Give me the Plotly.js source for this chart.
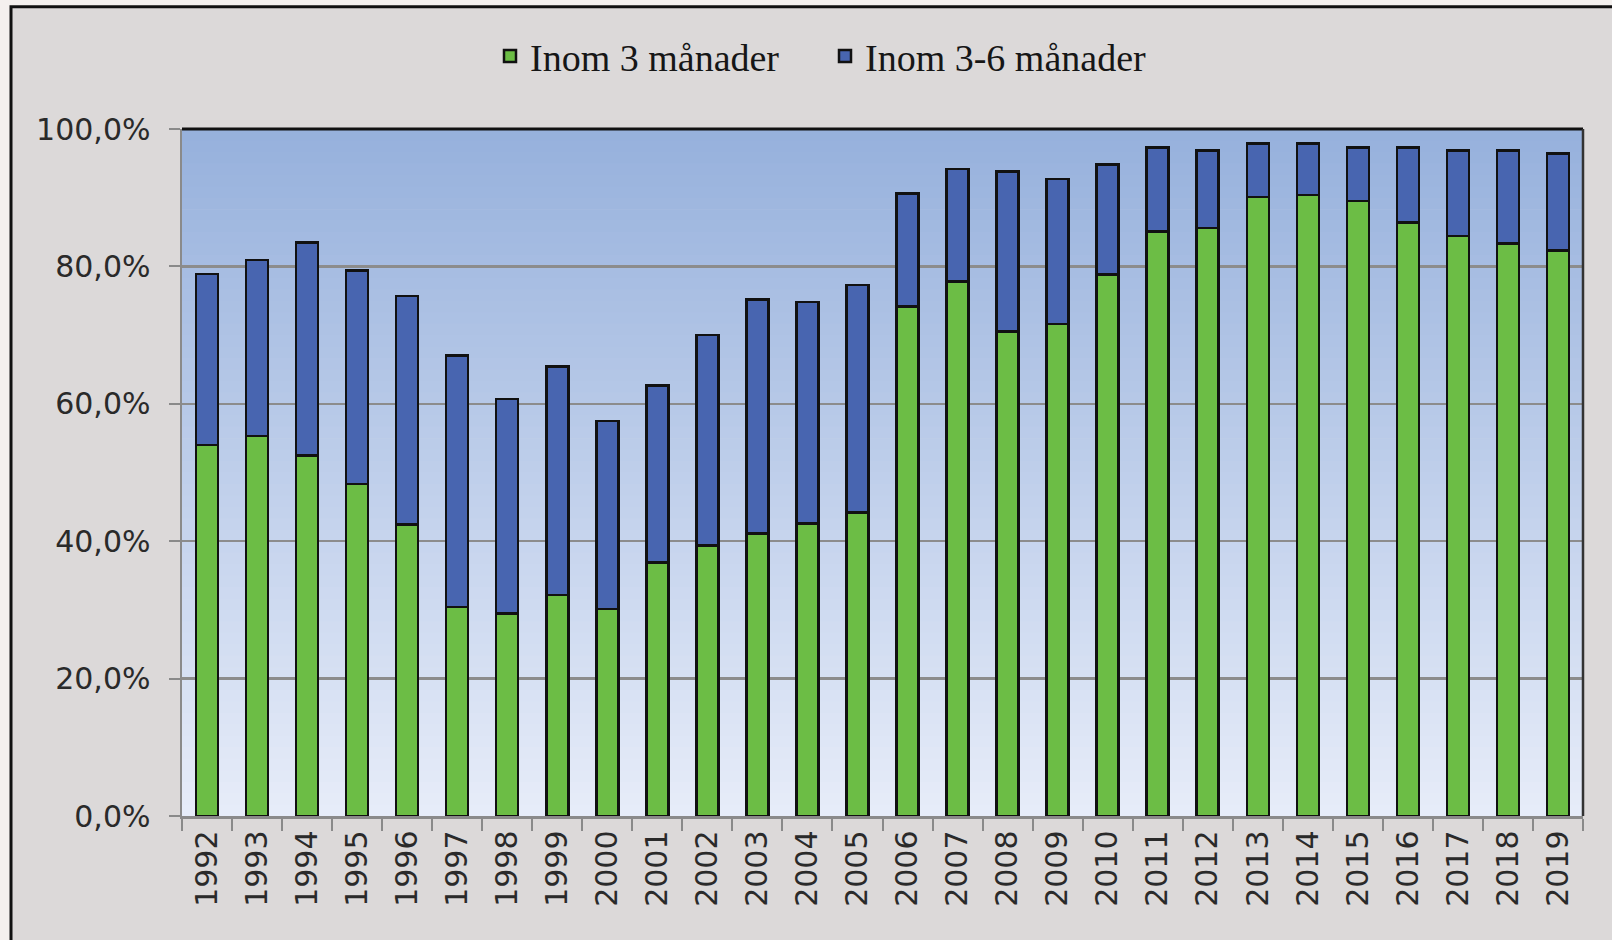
<!DOCTYPE html>
<html>
<head>
<meta charset="utf-8">
<script src="https://cdn.plot.ly/plotly-3.0.1.min.js"></script>
<style>
html,body{margin:0;padding:0;background:#f4f0ee;}
#chart{width:1612px;height:940px;}
</style>
</head>
<body>
<div id="chart"></div>
<script>
const years = ["1992","1993","1994","1995","1996","1997","1998","1999","2000","2001","2002","2003","2004","2005","2006","2007","2008","2009","2010","2011","2012","2013","2014","2015","2016","2017","2018","2019"];
const within3 = [54.0,55.3,52.5,48.3,42.4,30.4,29.5,32.2,30.1,36.9,39.4,41.1,42.6,44.2,74.2,77.8,70.5,71.6,78.8,85.1,85.6,90.1,90.4,89.5,86.4,84.4,83.3,82.3];
const within3to6 = [24.9,25.6,31.0,31.1,33.3,36.6,31.2,33.2,27.4,25.8,30.6,34.1,32.2,33.1,16.4,16.4,23.3,21.1,16.0,12.2,11.3,7.8,7.5,7.8,10.9,12.5,13.6,14.1];
const seriesNames = ["Inom 3 månader","Inom 3-6 månader"];
const yTicks = [0,20,40,60,80,100];
const yTickLabels = ["0,0%","20,0%","40,0%","60,0%","80,0%","100,0%"];

const tickFont = {family:"DejaVu Sans, Verdana, sans-serif", size:30, color:"#2a2a2a"};

const traces = [
  {type:"bar", name:seriesNames[0], x:years, y:within3,
   marker:{color:"#6cbd45", line:{color:"#111", width:2.5}}},
  {type:"bar", name:seriesNames[1], x:years, y:within3to6,
   marker:{color:"#4865b0", line:{color:"#111", width:2.5}}}
];

// background shapes: outer chart panel + vertical gradient in plot area
const shapes = [];
const PL = 182, PR = 1583, PT = 129.3, PB = 816;
const pw = PR - PL, ph = PB - PT;
shapes.push({type:"rect", layer:"below", xref:"paper", yref:"paper",
  x0:(11-PL)/pw, x1:(1700-PL)/pw, y0:(PB-1000)/ph, y1:(PB-7)/ph,
  fillcolor:"#dcd9d9", line:{color:"#111", width:3}});
const gTop = [150,176,220], gBot = [231,237,249];
const N = 60;
for (let i = 0; i < N; i++) {
  const t = (i + 0.5) / N;
  const c = gTop.map((v, k) => Math.round(v + (gBot[k] - v) * t));
  shapes.push({type:"rect", layer:"below", xref:"paper", yref:"paper",
    x0:0, x1:1, y0:1 - (i + 1) / N - 0.001, y1:1 - i / N,
    fillcolor:`rgb(${c[0]},${c[1]},${c[2]})`, line:{width:0}});
}
// top and right plot border (dark)
shapes.push({type:"line", layer:"above", xref:"paper", yref:"paper", x0:0, x1:1, y0:1, y1:1, line:{color:"#111", width:3}});
shapes.push({type:"line", layer:"above", xref:"paper", yref:"paper", x0:1, x1:1, y0:0, y1:1, line:{color:"#333", width:2.5}});

const layout = {
  width:1612, height:940,
  paper_bgcolor:"#f4f0ee",
  plot_bgcolor:"rgba(0,0,0,0)",
  margin:{l:PL, r:1612-PR, t:PT, b:940-PB, pad:0},
  barmode:"stack",
  bargap:0.56,
  showlegend:true,
  legend:{orientation:"h", x:(490-PL)/pw, xanchor:"left", y:1.106, yanchor:"middle",
    font:{family:"Liberation Serif, Times New Roman, serif", size:38, color:"#161616"},
    bgcolor:"rgba(0,0,0,0)", traceorder:"normal", itemwidth:30,
    entrywidth:290, entrywidthmode:"pixels"},
  xaxis:{type:"category", tickangle:-90, tickfont:tickFont,
    showline:true, linecolor:"#8a8a8a", linewidth:2.5,
    ticks:"outside", tickson:"boundaries", ticklen:12, tickcolor:"#8a8a8a", tickwidth:2,
    showgrid:false, fixedrange:true},
  yaxis:{range:[0,100], tickmode:"array", tickvals:yTicks, ticktext:yTickLabels,
    tickfont:tickFont, showline:true, linecolor:"#8a8a8a", linewidth:2.5,
    ticks:"outside", ticklen:11, tickcolor:"#8a8a8a", tickwidth:2, ticklabelstandoff:12,
    showgrid:true, gridcolor:"#8c8c8c", gridwidth:2.5, zeroline:false, fixedrange:true},
  shapes:shapes
};

Plotly.newPlot("chart", traces, layout, {displayModeBar:false, staticPlot:true});
</script>
</body>
</html>
